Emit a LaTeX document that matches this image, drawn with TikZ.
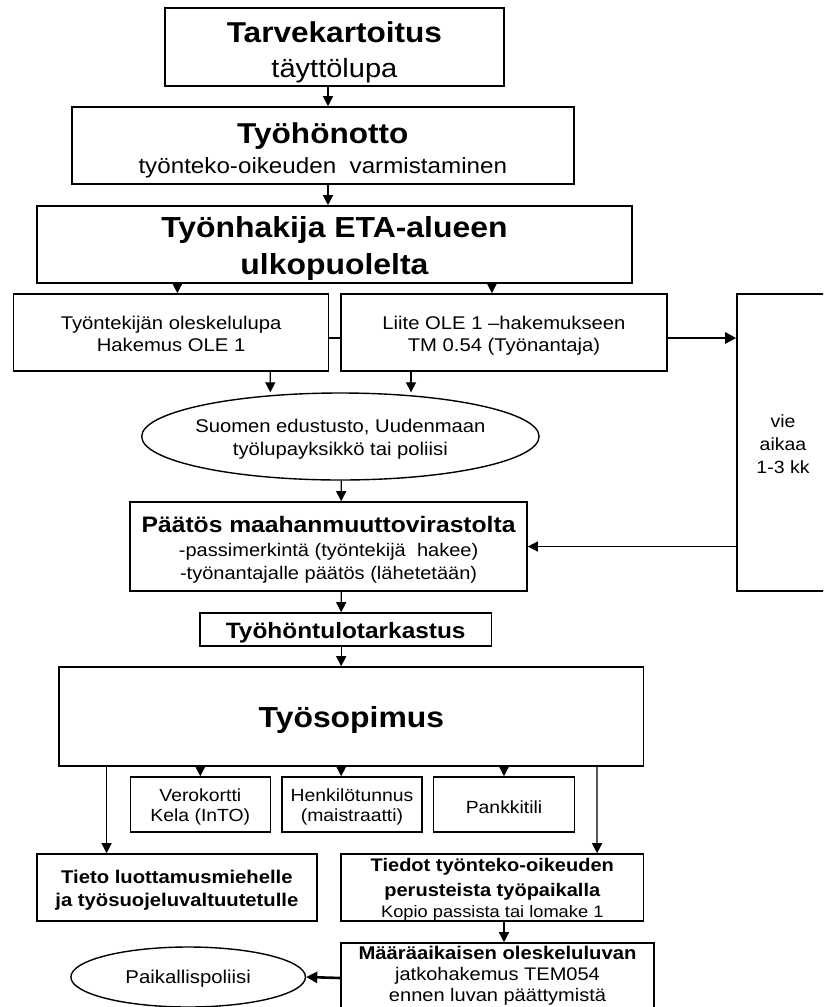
\documentclass[tikz,border=0pt]{standalone}
\usepackage{fontspec}
\setmainfont{Liberation Sans}[FakeStretch=1.1]
\usetikzlibrary{arrows.meta,shapes.geometric,calc}

% font size with baseline skip, in pt
\newcommand\fsz[2]{\fontsize{#1}{#2}\selectfont}

\tikzset{
  box/.style={draw, line width=1.6pt, rectangle, inner sep=0pt},
  oval/.style={draw, line width=1.4pt, ellipse, inner sep=0pt},
  txt/.style={inner sep=0pt, align=center},
  arr/.style={line width=1.3pt, -{Triangle[length=10pt,width=10pt]}},
  heavyarr/.style={line width=2.6pt, -{Triangle[length=11pt,width=11pt]}},
  link/.style={line width=1.3pt},
}

\begin{document}
\begin{tikzpicture}[x=1pt,y=-1pt]
\useasboundingbox (0,0) rectangle (823,1007);
\clip (0,0) rectangle (823,1007);
\fill[white] (0,0) rectangle (823,1007);

% ---------- upper chain ----------
\node[box, minimum width=339, minimum height=78] (tarve) at (334.4,47) {};
\node[txt, font=\fsz{26.4}{34.6}] (tarve-t) at (334.4,52.2)
  {{\fsz{28.7}{34.6}\bfseries Tarvekartoitus}\\täyttölupa};

\node[box, minimum width=502, minimum height=77] (hire) at (322.8,145.5) {};
\node[txt, font=\fsz{22}{30}] (hire-t) at (322.8,150.1)
  {{\fsz{28.7}{30}\bfseries Työhönotto}\\työnteko-oikeuden \ varmistaminen};

\node[box, minimum width=595, minimum height=77] (appl) at (334.4,244.5) {};
\node[txt, font=\fsz{29}{37}\bfseries] (appl-t) at (334.4,248)
  {Työnhakija ETA-alueen\\ulkopuolelta};

\node[box, minimum width=315, minimum height=77] (ole) at (171.1,332.5) {};
\node[txt, font=\fsz{18.4}{22.4}] (ole-t) at (171.1,333.8)
  {Työntekijän oleskelulupa\\Hakemus OLE 1};

\node[box, minimum width=326.5, minimum height=77] (liite) at (504,332.5) {};
\node[txt, font=\fsz{18.4}{22.4}] (liite-t) at (504,335.7)
  {Liite OLE 1 –hakemukseen\\TM 0.54 (Työnantaja)};

\node[box, minimum width=92, minimum height=297] (vie) at (783,442.5) {};
\node[txt, font=\fsz{17.7}{23.3}] (vie-t) at (783,444.2)
  {vie\\aikaa\\1-3 kk};

\node[oval, minimum width=397.4, minimum height=87] (edust) at (340.4,436.5) {};
\node[txt, font=\fsz{18.4}{23}] (edust-t) at (340.4,439.4)
  {Suomen edustusto, Uudenmaan\\työlupayksikkö tai poliisi};

\node[box, minimum width=396.8, minimum height=89] (paatos) at (328.6,546.5) {};
\node[txt, font=\fsz{18.2}{23.5}] (paatos-t) at (328.6,550.2)
  {{\fsz{22.4}{23.5}\bfseries Päätös maahanmuuttovirastolta}\\-passimerkintä (työntekijä \ hakee)\\-työnantajalle päätös (lähetetään)};

\node[box, minimum width=291.3, minimum height=33] (tarkastus) at (345.7,629.5) {};
\node[txt, font=\fsz{22.2}{26}\bfseries] (tarkastus-t) at (345.7,632.5)
  {Työhöntulotarkastus};

% ---------- contract and its branches ----------
\node[box, minimum width=584.3, minimum height=99] (sopimus) at (351.4,716.5) {};
\node[txt, font=\fsz{29}{34}\bfseries] (sopimus-t) at (351.4,719.9)
  {Työsopimus};

\node[box, minimum width=140, minimum height=55] (vero) at (200.3,804.5) {};
\node[txt, font=\fsz{17.6}{20.7}] (vero-t) at (200.3,806.8)
  {Verokortti\\Kela (InTO)};
\node[box, minimum width=140, minimum height=55] (henk) at (352,804.5) {};
\node[txt, font=\fsz{17.6}{20.7}] (henk-t) at (352,806.8)
  {Henkilötunnus\\(maistraatti)};
\node[box, minimum width=140.7, minimum height=55] (pankki) at (504,804.5) {};
\node[txt, font=\fsz{17.6}{20.7}] (pankki-t) at (504,807.6)
  {Pankkitili};

\node[box, minimum width=280.3, minimum height=67] (tieto) at (176.9,887.5) {};
\node[txt, font=\fsz{18.4}{23}\bfseries] (tieto-t) at (176.9,890.7)
  {Tieto luottamusmiehelle\\ja työsuojeluvaltuutetulle};

\node[box, minimum width=302.6, minimum height=67] (tiedot) at (492.3,887.5) {};
\node[txt, font=\fsz{18.2}{23}\bfseries] (tiedot-t) at (492.3,889.8)
  {Tiedot työnteko-oikeuden\\[2pt]perusteista työpaikalla\\[-2pt]{\fsz{16.6}{23}\mdseries Kopio passista tai lomake 1}};

\node[box, minimum width=313, minimum height=70] (maara) at (497.5,978) {};
\node[txt, font=\fsz{18.2}{20.9}] (maara-t) at (497.5,976)
  {{\fsz{18.4}{20.9}\bfseries Määräaikaisen oleskeluluvan}\\jatkohakemus TEM054\\ennen luvan päättymistä};

\node[oval, minimum width=234.6, minimum height=60] (poliisi) at (188.2,977) {};
\node[txt, font=\fsz{18.5}{23}] (poliisi-t) at (188.2,978.5)
  {Paikallispoliisi};

% ---------- connectors ----------
\draw[arr] ($(tarve.south)+(-6.4,0)$) -- ($(hire.north)+(5.2,0)$);
\draw[arr] ($(hire.south)+(5.2,0)$) -- ($(appl.north)+(-6.4,0)$);
\draw[arr] ($(appl.south)+(-157,0)$) -- ($(ole.north)+(6.3,0)$);
\draw[arr] ($(appl.south)+(157.5,0)$) -- ($(liite.north)+(-12.1,0)$);

\draw[link] ($(ole.east)+(0,5.5)$) -- ($(liite.west)+(0,5.5)$);
\draw[heavyarr] ($(liite.east)+(0,5.5)$) -- ($(vie.west)+(0,-104.5)$);

\draw[arr] ($(ole.south)+(99.2,0)$) -- ($(edust.north)+(-70.1,0)$);
\draw[arr] ($(liite.south)+(-93,0)$) -- ($(edust.north)+(70.6,0)$);
\draw[arr] ($(edust.south)+(0.8,0)$) -- ($(paatos.north)+(12.6,0)$);
\draw[arr] (vie.west |- paatos.east) -- (paatos.east);
\draw[arr] ($(paatos.south)+(12.6,0)$) -- ($(tarkastus.north)+(-4.5,0)$);
\draw[arr] ($(tarkastus.south)+(-4.5,0)$) -- ($(sopimus.north)+(-10.2,0)$);

\draw[arr] (vero.north |- sopimus.south) -- (vero.north);
\draw[arr] ($(sopimus.south)+(-10.2,0)$) -- ($(henk.north)+(-10.8,0)$);
\draw[arr] (pankki.north |- sopimus.south) -- (pankki.north);
\draw[arr] ($(sopimus.south)+(-244.8,0)$) -- ($(tieto.north)+(-70.3,0)$);
\draw[arr] ($(sopimus.south)+(245.5,0)$) -- ($(tiedot.north)+(104.8,0)$);

\draw[arr] ($(tiedot.south)+(11.7,0)$) -- ($(maara.north)+(6.5,0)$);
\draw[heavyarr] (maara.west) -- (poliisi.east);
\end{tikzpicture}
\end{document}
